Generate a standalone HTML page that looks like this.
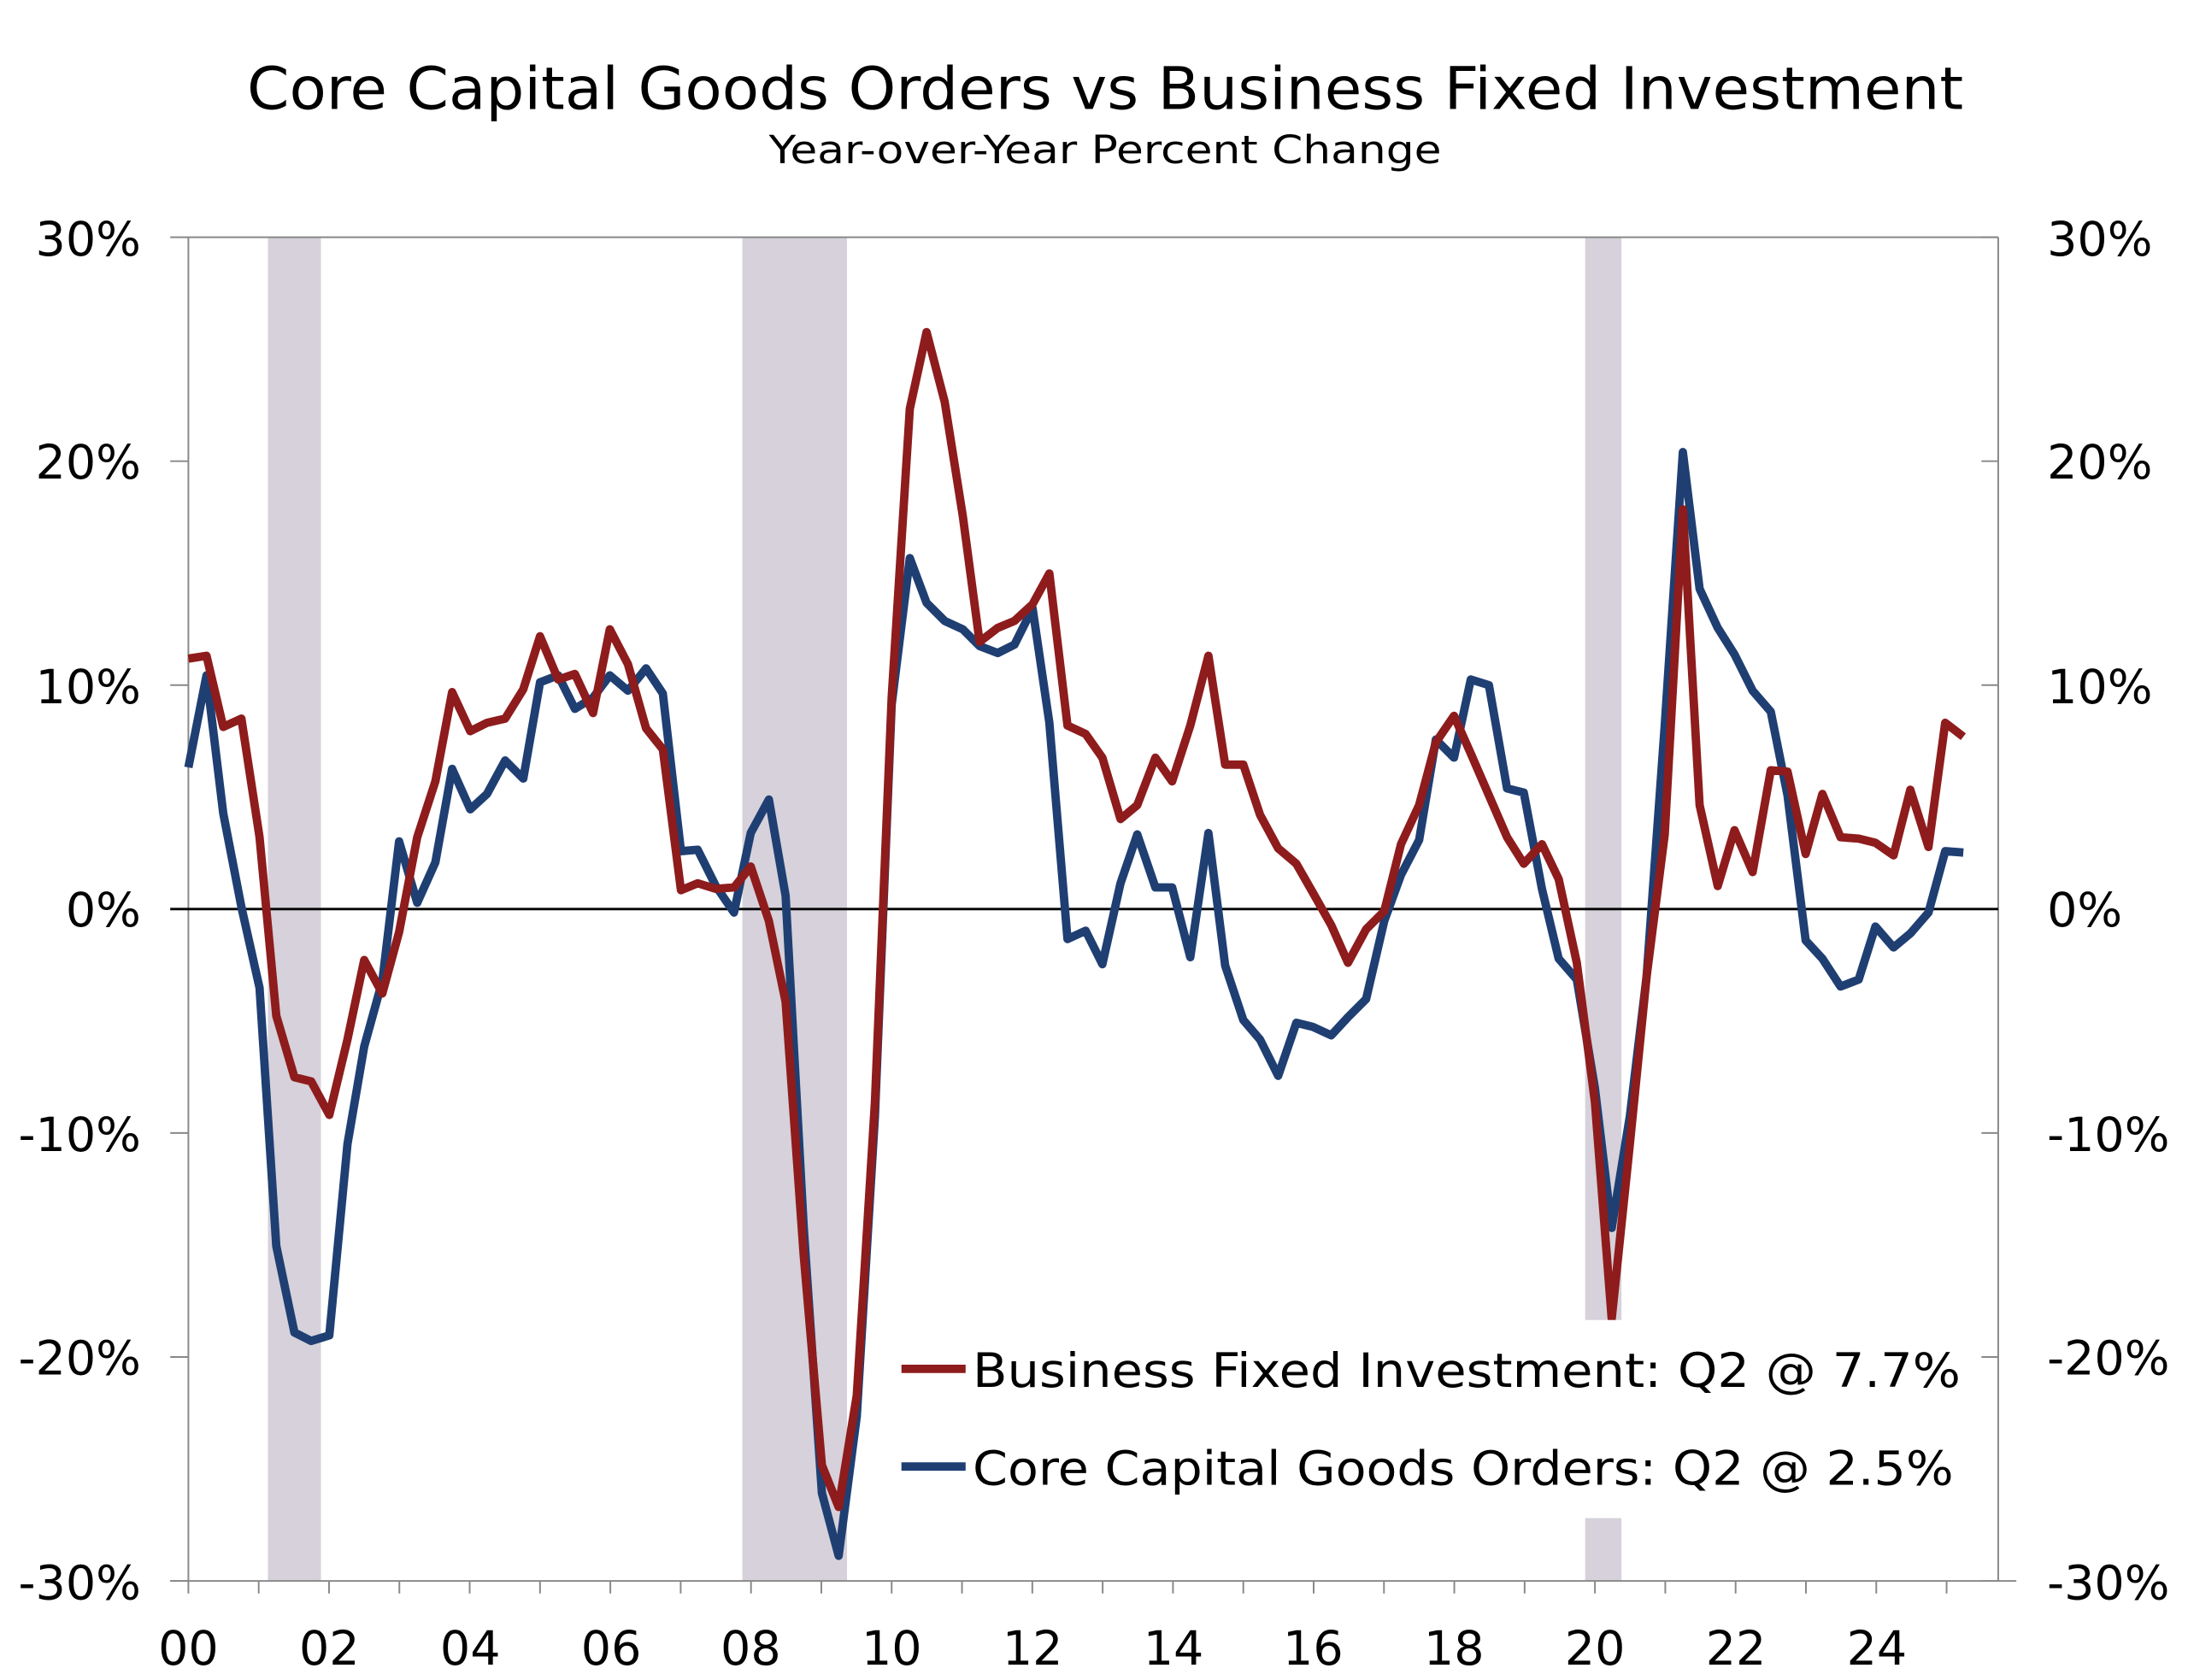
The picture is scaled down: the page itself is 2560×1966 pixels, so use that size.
<!DOCTYPE html>
<html><head><meta charset="utf-8"><style>html,body{margin:0;padding:0;background:#fff}svg{display:block}</style></head>
<body>
<svg width="2560" height="1966" viewBox="0 0 1568 1204" preserveAspectRatio="none" xmlns="http://www.w3.org/2000/svg" font-family="DejaVu Sans, Liberation Sans, sans-serif">
<rect width="1568" height="1204" fill="#fff"/>
<text x="792" y="78" font-size="42" text-anchor="middle" textLength="1230" lengthAdjust="spacingAndGlyphs">Core Capital Goods Orders vs Business Fixed Investment</text>
<text x="792" y="117" font-size="28" text-anchor="middle" textLength="482" lengthAdjust="spacingAndGlyphs">Year-over-Year Percent Change</text>
<g fill="#d6d1da">
<rect x="192" y="170" width="38" height="963"/>
<rect x="532" y="170" width="75" height="963"/>
<rect x="1136" y="170" width="26" height="963"/>
</g>
<g stroke="#888" stroke-width="1.2" fill="none">
<line x1="122" y1="170" x2="1432" y2="170"/>
<line x1="135" y1="170" x2="135" y2="1133"/>
<line x1="1432" y1="170" x2="1432" y2="1133"/>
<line x1="122" y1="1133" x2="1445" y2="1133"/>
<path d="M122 330.5H135M122 491H135M122 812H135M122 972.5H135M122 1133H135M1420 170H1432M1420 330.5H1432M1420 491H1432M1420 812H1432M1420 972.5H1432M1420 1133H1432"/>
<path d="M135 1133v9M185.4 1133v9M235.8 1133v9M286.2 1133v9M336.6 1133v9M387 1133v9M437.4 1133v9M487.8 1133v9M538.2 1133v9M588.6 1133v9M639 1133v9M689.4 1133v9M739.8 1133v9M790.2 1133v9M840.6 1133v9M891 1133v9M941.4 1133v9M991.8 1133v9M1042.2 1133v9M1092.6 1133v9M1143 1133v9M1193.4 1133v9M1243.8 1133v9M1294.2 1133v9M1344.6 1133v9M1395 1133v9"/>
</g>
<line x1="122" y1="651.5" x2="1432" y2="651.5" stroke="#000" stroke-width="1.8"/>
<g font-size="34" text-anchor="end">
<text x="101" y="183">30%</text><text x="101" y="343">20%</text><text x="101" y="504">10%</text><text x="101" y="664">0%</text><text x="101" y="825">-10%</text><text x="101" y="985">-20%</text><text x="101" y="1146">-30%</text>
</g>
<g font-size="34" text-anchor="start">
<text x="1467" y="183">30%</text><text x="1467" y="343">20%</text><text x="1467" y="504">10%</text><text x="1467" y="664">0%</text><text x="1467" y="825">-10%</text><text x="1467" y="985">-20%</text><text x="1467" y="1146">-30%</text>
</g>
<g font-size="34" text-anchor="middle">
<text x="135" y="1193">00</text><text x="236" y="1193">02</text><text x="337" y="1193">04</text><text x="438" y="1193">06</text><text x="538" y="1193">08</text><text x="639" y="1193">10</text><text x="740" y="1193">12</text><text x="841" y="1193">14</text><text x="941" y="1193">16</text><text x="1042" y="1193">18</text><text x="1143" y="1193">20</text><text x="1244" y="1193">22</text><text x="1345" y="1193">24</text>
</g>
<polyline fill="none" stroke="#1f3f73" stroke-width="6" stroke-linejoin="round" points="135,550 148,484 160,583 173,650 186,708 198,893 211,955 223,961 236,957 249,820 261,750 274,703 286,603 299,647 312,618 324,551 337,580 349,569 362,545 375,558 387,489 400,484 412,508 425,500 437,484 450,495 463,479 475,497 488,610 500,609 513,635 526,654 538,597 551,573 563,642 576,880 589,1070 601,1115 614,1015 627,800 639,505 652,400 664,432 677,445 690,451 702,463 715,468 727,462 740,436 752,518 765,673 778,667 790,691 803,633 815,598 828,636 840,636 853,686 866,597 878,692 891,731 903,745 916,771 929,733 941,736 954,742 966,729 979,716 992,660 1004,627 1017,602 1029,530 1042,543 1054,487 1067,491 1080,565 1092,568 1105,637 1117,687 1130,702 1143,780 1155,880 1168,800 1180,700 1193,520 1206,324 1218,422 1231,450 1243,469 1256,495 1269,510 1281,570 1294,674 1306,687 1319,707 1332,702 1344,664 1357,679 1369,669 1382,654 1394,610 1407,611"/>
<polyline fill="none" stroke="#8e1c1c" stroke-width="6" stroke-linejoin="round" points="135,472 148,470 160,521 173,515 186,600 198,728 211,772 223,775 236,799 249,745 261,688 274,712 286,668 299,600 312,560 324,496 337,524 349,518 362,515 375,494 387,456 400,487 412,483 425,511 437,451 450,476 463,522 475,537 488,638 500,633 513,637 526,636 538,621 551,660 563,718 576,900 589,1050 601,1080 614,1000 627,790 639,500 652,293 664,238 677,288 690,370 702,460 715,450 727,445 740,433 752,411 765,520 778,526 790,543 803,587 815,577 828,543 840,560 853,520 866,470 878,548 891,548 903,584 916,608 929,619 941,640 954,663 966,690 979,666 992,653 1004,605 1017,577 1029,532 1042,513 1054,540 1067,570 1080,600 1092,619 1105,605 1117,630 1130,690 1143,790 1155,945 1168,820 1180,700 1193,598 1206,365 1218,577 1231,635 1243,595 1256,625 1269,552 1281,553 1294,612 1306,569 1319,600 1332,601 1344,604 1357,613 1369,566 1382,607 1394,518 1407,528"/>
<rect x="635" y="946" width="780" height="142" fill="#fff"/>
<line x1="646" y1="981" x2="692" y2="981" stroke="#8e1c1c" stroke-width="6"/>
<line x1="646" y1="1051" x2="692" y2="1051" stroke="#1f3f73" stroke-width="6"/>
<text x="697" y="994" font-size="34" textLength="708" lengthAdjust="spacingAndGlyphs">Business Fixed Investment: Q2 @ 7.7%</text>
<text x="697" y="1064" font-size="34" textLength="703" lengthAdjust="spacingAndGlyphs">Core Capital Goods Orders: Q2 @ 2.5%</text>
</svg>
</body></html>
